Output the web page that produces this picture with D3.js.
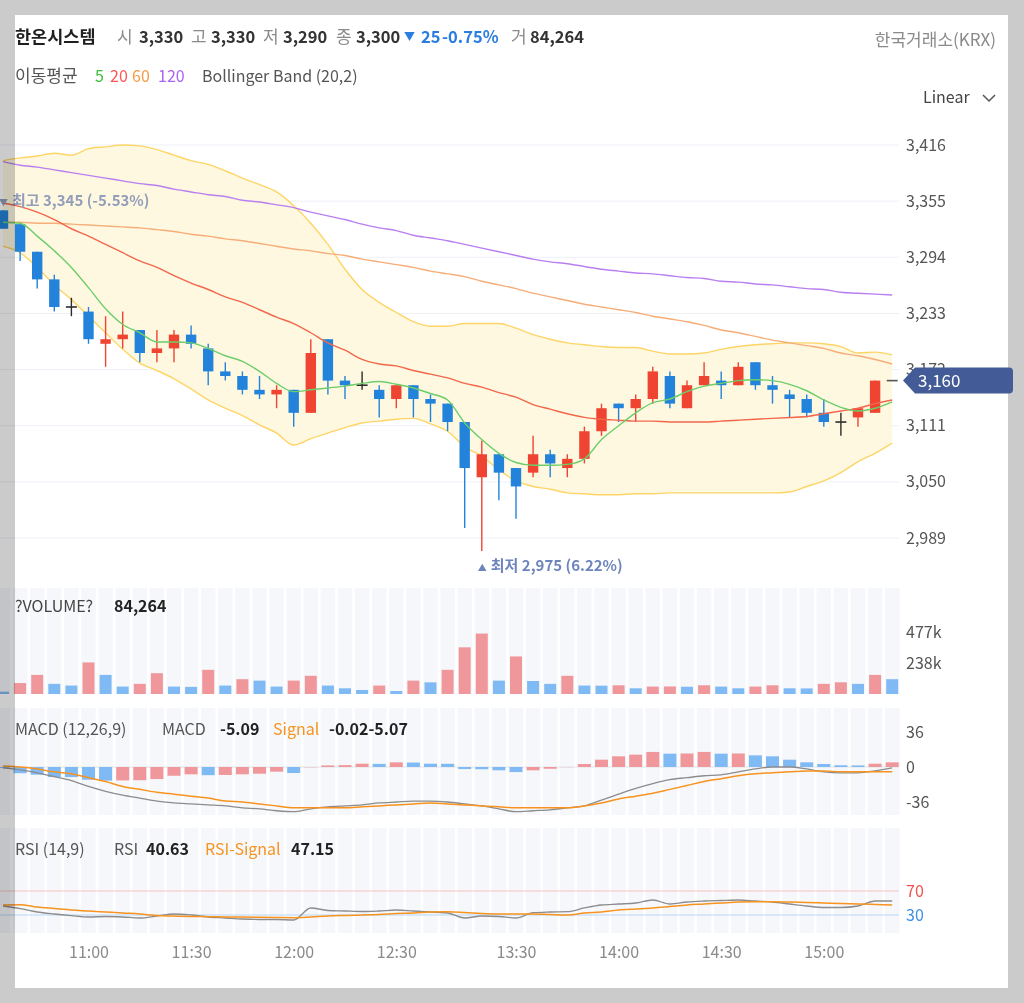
<!DOCTYPE html>
<html>
<head>
<meta charset="utf-8">
<script src="https://cdn.jsdelivr.net/npm/d3@7"></script>
<style>
body { margin: 0; background: #fff; }
svg { display: block; font-family: "Noto Sans CJK KR", "Noto Sans", sans-serif; }
</style>
</head>
<body>
<svg id="canvas" width="1024" height="1003"></svg>
<script>
// 5-minute candles, oldest first
const opens  = [3345,3330,3300,3270,3240,3235,3200,3205,3215,3190,3195,3210,3195,3170,3165,3150,3145,3150,3125,3205,3160,3155,3150,3140,3155,3140,3135,3115,3055,3080,3065,3060,3080,3065,3075,3105,3135,3130,3140,3165,3130,3155,3160,3155,3180,3155,3145,3140,3125,3115,3120,3125,3160]
const highs  = [3345,3330,3300,3275,3250,3240,3230,3235,3215,3215,3215,3220,3200,3180,3170,3165,3155,3150,3205,3205,3165,3170,3155,3155,3155,3145,3135,3115,3095,3080,3065,3100,3085,3080,3110,3135,3135,3145,3175,3170,3160,3180,3170,3180,3180,3165,3150,3145,3140,3125,3130,3160,3160]
const lows   = [3325,3290,3260,3235,3230,3200,3175,3195,3180,3180,3180,3195,3155,3160,3145,3140,3130,3110,3125,3145,3140,3150,3120,3130,3120,3115,3105,3000,2975,3030,3010,3055,3055,3055,3070,3100,3115,3115,3135,3130,3130,3155,3140,3155,3150,3135,3120,3120,3110,3100,3110,3125,3160]
const closes = [3325,3300,3270,3240,3240,3205,3205,3210,3190,3195,3210,3200,3170,3165,3150,3145,3150,3125,3190,3160,3155,3155,3140,3155,3140,3135,3115,3065,3080,3060,3045,3080,3070,3075,3105,3130,3130,3140,3170,3135,3155,3165,3155,3175,3155,3150,3140,3125,3115,3115,3130,3160,3160]
const volumes = [18000,84264,147000,78000,65000,243000,147000,57000,78000,160000,57000,55000,186000,65000,114000,103000,57000,103000,140000,65000,44000,31000,65000,23000,103000,90000,186000,359000,465000,103000,289000,100000,78000,140000,65000,64000,67000,44000,57000,58000,56000,67000,57000,44000,57000,67000,44000,43000,78000,90000,78000,147000,114000]

// moving averages and bollinger band (20,2)
const ma5   = [3332,3331,3317,3301,3283,3261,3238,3221,3212,3202,3202,3201,3195,3187,3181,3170,3157,3148,3150,3152,3154,3157,3159,3156,3152,3146,3139,3114,3096,3081,3071,3068,3068,3069,3075,3096,3111,3125,3136,3140,3148,3154,3157,3160,3161,3160,3156,3149,3139,3131,3127,3130,3137]
const ma20  = [3353,3349,3343,3335,3325,3317,3308,3299,3290,3283,3274,3266,3259,3251,3245,3237,3229,3222,3212,3201,3193,3183,3178,3176,3171,3167,3163,3157,3153,3147,3142,3134,3129,3124,3120,3118,3117,3116,3116,3115,3115,3115,3116,3117,3118,3119,3120,3121,3124,3127,3130,3135,3139]
const ma60  = [3332,3332,3331,3331,3330,3329,3328,3327,3326,3324,3322,3319,3317,3314,3312,3309,3306,3303,3301,3298,3296,3292,3289,3286,3283,3279,3276,3273,3268,3264,3260,3255,3251,3247,3243,3240,3237,3234,3230,3227,3224,3220,3215,3212,3208,3204,3201,3198,3195,3190,3187,3183,3178]
const ma120 = [3398,3394,3392,3389,3386,3383,3380,3377,3374,3372,3368,3365,3362,3360,3356,3354,3351,3348,3343,3339,3335,3330,3326,3323,3318,3315,3312,3308,3304,3300,3296,3292,3289,3287,3284,3281,3279,3277,3276,3274,3272,3271,3268,3267,3265,3264,3262,3260,3259,3256,3255,3254,3253]
const bbUpper = [3399,3402,3404,3407,3405,3412,3414,3416,3415,3411,3405,3399,3395,3388,3380,3373,3365,3350,3331,3308,3281,3259,3245,3234,3224,3219,3219,3222,3222,3222,3217,3210,3205,3201,3199,3197,3196,3196,3192,3189,3189,3190,3194,3197,3199,3200,3201,3201,3200,3197,3190,3191,3188]
const bbLower = [3306,3299,3283,3264,3248,3230,3212,3194,3179,3171,3162,3151,3139,3130,3122,3112,3103,3090,3097,3103,3109,3114,3116,3118,3119,3113,3105,3088,3078,3063,3051,3045,3042,3038,3037,3036,3036,3037,3037,3038,3038,3038,3038,3038,3038,3038,3039,3045,3051,3060,3072,3081,3092]

// MACD (12,26,9)
const macd   = [-1,-3,-6,-10,-14,-20,-25,-29,-32,-35,-37,-38,-39,-40,-42,-43,-45,-46,-43,-41,-40,-39,-37,-36,-35,-35,-36,-38,-40,-43,-46,-45,-44,-42,-40,-34,-28,-22,-17,-13,-11,-9,-8,-5,-2,0,0,-2,-5,-6,-6,-4,-1]
const signal = [1,0,-2,-5,-7,-11,-15,-20,-23,-26,-28,-30,-32,-35,-36,-38,-40,-42,-42,-42,-42,-41,-40,-39,-38,-37,-38,-39,-40,-41,-42,-42,-42,-42,-40,-37,-33,-30,-27,-23,-19,-15,-12,-9,-7,-6,-5,-4,-4,-5,-5,-5,-5]
const osc    = [-1,-6.4,-7.9,-10.3,-10.4,-13.1,-14,-13.8,-13.6,-12.4,-9,-7.5,-8.4,-8.2,-7.5,-6.9,-4.8,-6.2,-0.3,1.6,1.9,3.4,3.2,4.8,4.6,3.4,3.3,-2.1,-2.3,-3.4,-5.2,-3.4,-1.8,-0.2,3.1,7.5,11,12.7,15.5,13.7,13.9,15.5,13.7,13.9,12,11,7.5,4.8,3.1,1.8,1.6,3.4,4.8]

// RSI (14,9)
const rsi       = [45,40.63,35,31.7,29,26.7,27.5,26.7,25,28.3,31.7,30,26.7,25,23.3,22.5,22.5,21.7,41.7,37.5,36.7,35.8,36.7,38.3,36.7,35,33.3,25,28.3,27.5,25,33.8,35,35.5,41.7,46.7,48.3,50,55,48.3,51.7,53.3,54.2,55,53.3,51.7,48.3,45,42.5,42.5,45,53.3,53.3]
const rsiSignal = [46.7,47.15,43.3,40.8,38.3,36.7,35,33.3,31.7,29.2,28.3,27.5,27.2,26.7,26.7,26.2,25.8,25.5,26.7,28.3,29.2,30,30.8,32.5,33.3,35,35.5,34.2,32.5,31.7,31.7,31.7,30.8,30,33.3,35,38.3,40,41.7,44.2,46.7,48.3,50,51.7,52.2,52.2,51.7,50.8,50,49.2,48.3,47.5,46.7]

const priceTicks = [2989, 3050, 3111, 3172, 3233, 3294, 3355, 3416]
const volumeTicks = [238500, 477000]
const macdTicks = [-36, 0, 36]
const rsiTicks = [30, 70]
const timeTickIdx = [5, 11, 17, 23, 30, 36, 42, 48]
const timeTickLabels = ['11:00', '11:30', '12:00', '12:30', '13:30', '14:00', '14:30', '15:00']

let canvas = d3.select('#canvas')
let n = closes.length
let idx = d3.range(n)
let plotRight = 899

let upColor = '#ef4431', downColor = '#2383da', dojiColor = '#2b2b2b'
let pink = '#f0979c', sky = '#80baf5'

let x = d3.scaleLinear().domain([0, n - 1]).range([3, 892.2])
let step = x(1) - x(0)

let y = d3.scaleLinear().domain([2989, 3416]).range([538, 145])
let yVol = d3.scaleLinear().domain([0, 477000]).range([694, 632])
let yMacd = d3.scaleLinear().domain([-36, 36]).range([802, 732])
let yRsi = d3.scaleLinear().domain([30, 70]).range([915, 891])

// plain hyphen instead of the unicode minus d3 uses
let hyphen = (s) => s.replace('\u2212', '-')
let comma = (v) => hyphen(d3.format(',')(v))
let pct = (v) => hyphen(d3.format('.2%')(v))

let styleAxis = (g, color) => {
    g.select('.domain').remove()
    g.selectAll('text')
        .attr('font-size', 16)
        .attr('font-family', '"Noto Sans CJK KR", "Noto Sans", sans-serif')
        .attr('fill', color || '#555')
}

////////////////////////////////////////// PRICE PANEL //////////////////////////////////////////

canvas.append('g').selectAll('line')
    .data(priceTicks)
    .enter()
    .append('line')
    .attr('x1', 0)
    .attr('x2', plotRight)
    .attr('y1', (d) => y(d))
    .attr('y2', (d) => y(d))
    .attr('stroke', '#edf1f7')

let band = d3.area()
    .x((i) => x(i))
    .y0((i) => y(bbLower[i]))
    .y1((i) => y(bbUpper[i]))
    .curve(d3.curveMonotoneX)

canvas.append('path')
    .datum(idx)
    .attr('d', band)
    .attr('fill', '#fff8e1')

let lineOf = (arr, scale) => d3.line()
    .x((i) => x(i))
    .y((i) => scale(arr[i]))
    .curve(d3.curveMonotoneX)

let drawLine = (arr, scale, color, width) => {
    canvas.append('path')
        .datum(idx)
        .attr('d', lineOf(arr, scale))
        .attr('fill', 'none')
        .attr('stroke', color)
        .attr('stroke-width', width)
}

drawLine(bbUpper, y, '#fdd566', 1.4)
drawLine(bbLower, y, '#fdd566', 1.4)
drawLine(ma120, y, '#b97ff0', 1.4)
drawLine(ma60, y, '#f7ad78', 1.4)

// candles
let candleColor = (i) => {
    if (closes[i] > opens[i]) {
        return upColor
    } else if (closes[i] < opens[i]) {
        return downColor
    }
    return dojiColor
}

let candle = canvas.selectAll('g.candle')
    .data(idx)
    .enter()
    .append('g')
    .attr('class', 'candle')

candle.filter((i) => highs[i] !== lows[i])
    .append('line')
    .attr('x1', (i) => x(i))
    .attr('x2', (i) => x(i))
    .attr('y1', (i) => y(highs[i]))
    .attr('y2', (i) => y(lows[i]))
    .attr('stroke', candleColor)
    .attr('stroke-width', 1.4)

candle.filter((i) => opens[i] !== closes[i])
    .append('rect')
    .attr('x', (i) => x(i) - 5.2)
    .attr('width', 10.4)
    .attr('y', (i) => y(Math.max(opens[i], closes[i])))
    .attr('height', (i) => Math.max(1.5, Math.abs(y(opens[i]) - y(closes[i]))))
    .attr('fill', candleColor)

candle.filter((i) => opens[i] === closes[i])
    .append('line')
    .attr('x1', (i) => x(i) - 5.5)
    .attr('x2', (i) => x(i) + 5.5)
    .attr('y1', (i) => y(closes[i]))
    .attr('y2', (i) => y(closes[i]))
    .attr('stroke', (i) => i === n - 1 ? '#555' : dojiColor)
    .attr('stroke-width', 1.6)

drawLine(ma20, y, '#f2674c', 1.4)
drawLine(ma5, y, '#6ccd6a', 1.4)

// high / low markers
let hiIdx = d3.maxIndex(highs)
let loIdx = d3.minIndex(lows)
let last = closes[n - 1]

let hiText = canvas.append('text')
    .attr('x', x(hiIdx) - 4)
    .attr('y', y(highs[hiIdx]) - 10)
    .attr('dy', '0.35em')
    .attr('font-size', 15)
    .attr('font-weight', 'bold')
    .attr('fill', '#919db9')
hiText.append('tspan').attr('font-size', 9).text('▼')
hiText.append('tspan').attr('dx', 4).text('최고 ' + comma(highs[hiIdx]) + ' (' + pct((last - highs[hiIdx]) / highs[hiIdx]) + ')')

let loText = canvas.append('text')
    .attr('x', x(loIdx) - 4)
    .attr('y', y(lows[loIdx]) + 15)
    .attr('dy', '0.35em')
    .attr('font-size', 15)
    .attr('font-weight', 'bold')
    .attr('fill', '#6d84bd')
loText.append('tspan').attr('font-size', 9).text('▲')
loText.append('tspan').attr('dx', 4).text('최저 ' + comma(lows[loIdx]) + ' (' + pct((last - lows[loIdx]) / lows[loIdx]) + ')')

canvas.append('g')
    .attr('transform', 'translate(903,0)')
    .call(d3.axisRight(y).tickValues(priceTicks).tickSize(0).tickPadding(3).tickFormat(comma))
    .call((g) => styleAxis(g))

////////////////////////////////////////// LOWER PANELS //////////////////////////////////////////

let stripes = (top, bottom) => {
    canvas.append('g').selectAll('rect')
        .data(idx)
        .enter()
        .append('rect')
        .attr('x', (i) => x(i) - step / 2 + 1.3)
        .attr('width', step - 2.6)
        .attr('y', top)
        .attr('height', bottom - top)
        .attr('fill', '#f5f7fb')
}

// volume
stripes(588, 694)
canvas.append('g').selectAll('rect')
    .data(idx)
    .enter()
    .append('rect')
    .attr('x', (i) => x(i) - 6)
    .attr('width', 12)
    .attr('y', (i) => yVol(volumes[i]))
    .attr('height', (i) => yVol(0) - yVol(volumes[i]))
    .attr('fill', (i) => (i > 0 && volumes[i] > volumes[i - 1]) ? pink : sky)

canvas.append('g')
    .attr('transform', 'translate(903,0)')
    .call(d3.axisRight(yVol).tickValues(volumeTicks).tickSize(0).tickPadding(3).tickFormat((d) => Math.floor(d / 1000) + 'k'))
    .call((g) => styleAxis(g))

// MACD
stripes(708, 815)
canvas.append('line')
    .attr('x1', 0).attr('x2', plotRight)
    .attr('y1', yMacd(0)).attr('y2', yMacd(0))
    .attr('stroke', '#e2e4e8')
canvas.append('g').selectAll('rect')
    .data(idx)
    .enter()
    .append('rect')
    .attr('x', (i) => x(i) - 6.5)
    .attr('width', 13)
    .attr('y', (i) => yMacd(Math.max(0, osc[i])))
    .attr('height', (i) => Math.abs(yMacd(osc[i]) - yMacd(0)))
    .attr('fill', (i) => (i > 0 && osc[i] > osc[i - 1]) ? pink : sky)
drawLine(macd, yMacd, '#8c8c8c', 1.3)
drawLine(signal, yMacd, '#f7931e', 1.5)

canvas.append('g')
    .attr('transform', 'translate(903,0)')
    .call(d3.axisRight(yMacd).tickValues(macdTicks).tickSize(0).tickPadding(3).tickFormat((d) => String(d)))
    .call((g) => styleAxis(g))

// RSI
stripes(828, 933)
canvas.append('line')
    .attr('x1', 0).attr('x2', plotRight)
    .attr('y1', yRsi(70)).attr('y2', yRsi(70))
    .attr('stroke', '#f6c3c3')
canvas.append('line')
    .attr('x1', 0).attr('x2', plotRight)
    .attr('y1', yRsi(30)).attr('y2', yRsi(30))
    .attr('stroke', '#b8d7f7')
drawLine(rsi, yRsi, '#8c8c8c', 1.3)
drawLine(rsiSignal, yRsi, '#f7931e', 1.5)

let rsiAxis = canvas.append('g')
    .attr('transform', 'translate(903,0)')
    .call(d3.axisRight(yRsi).tickValues(rsiTicks).tickSize(0).tickPadding(3))
    .call((g) => styleAxis(g))
rsiAxis.selectAll('text').attr('fill', (d) => d === 70 ? '#ef5350' : '#3d8fe8')

// time axis
canvas.append('g')
    .attr('transform', 'translate(0,945)')
    .call(d3.axisBottom(x).tickValues(timeTickIdx).tickSize(0).tickPadding(2).tickFormat((d, i) => timeTickLabels[i]))
    .call((g) => styleAxis(g, '#8a8a8a'))

////////////////////////////////////////// TEXTS //////////////////////////////////////////

let addText = (parts, yPos, size) => {
    parts.forEach((p) => {
        canvas.append('text')
            .attr('x', p[1])
            .attr('y', yPos)
            .attr('dy', '0.35em')
            .attr('font-size', p[4] || size)
            .attr('font-weight', p[3] || 'normal')
            .attr('fill', p[2])
            .text(p[0])
    })
}

addText([
    ['한온시스템', 15, '#1f1f1f', 'bold', 17.5],
    ['시', 117, '#8a8a8a', 'normal', 17], ['3,330', 139, '#333', 600],
    ['고', 191, '#8a8a8a', 'normal', 17], ['3,330', 211, '#333', 600],
    ['저', 263, '#8a8a8a', 'normal', 17], ['3,290', 283, '#333', 600],
    ['종', 336, '#8a8a8a', 'normal', 17], ['3,300', 356, '#333', 600],
    ['▼', 404, '#2a7de1', 'normal', 11],
    ['25', 421, '#2a7de1', 600], ['-0.75%', 442, '#2a7de1', 600],
    ['거', 511, '#8a8a8a', 'normal', 17], ['84,264', 530, '#333', 600]
], 37, 16.5)

canvas.append('text')
    .attr('x', 996).attr('y', 40).attr('dy', '0.35em')
    .attr('text-anchor', 'end')
    .attr('font-size', 17)
    .attr('fill', '#8a8a8a')
    .text('한국거래소(KRX)')

addText([
    ['이동평균', 15, '#555', 'normal', 17],
    ['5', 95, '#3cbf3c'], ['20', 110, '#ff5656'], ['60', 132, '#f49a45'], ['120', 158, '#a864f2'],
    ['Bollinger Band (20,2)', 202, '#555']
], 76, 16)

canvas.append('text')
    .attr('x', 923).attr('y', 97).attr('dy', '0.35em')
    .attr('font-size', 16)
    .attr('fill', '#444')
    .text('Linear')
canvas.append('path')
    .attr('d', 'M983,95 L989,101 L995,95')
    .attr('fill', 'none')
    .attr('stroke', '#555')
    .attr('stroke-width', 1.5)

addText([
    ['?VOLUME?', 15, '#444'], ['84,264', 114, '#222', 'bold']
], 606, 16)

addText([
    ['MACD (12,26,9)', 15, '#555'],
    ['MACD', 162, '#555'], ['-5.09', 220, '#222', 'bold'],
    ['Signal', 273, '#f7931e'], ['-0.02-5.07', 329, '#222', 'bold']
], 729, 16)

addText([
    ['RSI (14,9)', 15, '#555'],
    ['RSI', 114, '#555'], ['40.63', 146, '#222', 'bold'],
    ['RSI-Signal', 205, '#f7931e'], ['47.15', 291, '#222', 'bold']
], 849, 16)

////////////////////////////////////////// FRAME + LAST PRICE //////////////////////////////////////////

let frame = [[0, 0, 1024, 15], [0, 15, 15, 973], [1008, 15, 16, 973], [0, 988, 1024, 15]]
canvas.append('g').selectAll('rect')
    .data(frame)
    .enter()
    .append('rect')
    .attr('x', (d) => d[0]).attr('y', (d) => d[1])
    .attr('width', (d) => d[2]).attr('height', (d) => d[3])
    .attr('fill', '#cbcbcb')
    .style('mix-blend-mode', 'multiply')

let by = y(last)
canvas.append('path')
    .attr('d', 'M903,' + by + ' L915,' + (by - 13) + ' H1009 Q1013,' + (by - 13) + ' 1013,' + (by - 9) +
        ' V' + (by + 9) + ' Q1013,' + (by + 13) + ' 1009,' + (by + 13) + ' H915 Z')
    .attr('fill', '#435c98')
canvas.append('text')
    .attr('x', 918).attr('y', by).attr('dy', '0.35em')
    .attr('font-size', 17)
    .attr('fill', '#fff')
    .text(comma(last))
</script>
</body>
</html>
